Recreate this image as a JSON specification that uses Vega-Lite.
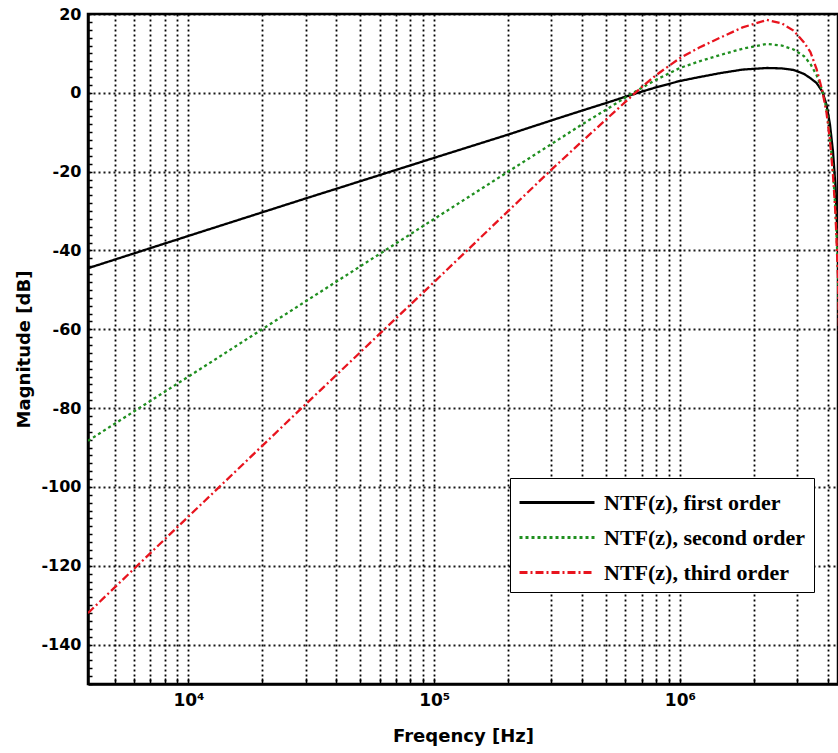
{
  "$schema": "https://vega.github.io/schema/vega-lite/v6.json",
  "width": 750,
  "height": 670,
  "autosize": {"type": "none"},
  "padding": {"left": 88, "top": 14, "right": 0, "bottom": 69},
  "background": "white",
  "config": {
    "view": {"stroke": "black", "strokeWidth": 2.5},
    "axis": {
      "domainColor": "black",
      "domainWidth": 2.5,
      "tickColor": "black",
      "tickWidth": 1.5,
      "gridColor": "black",
      "gridDash": [2, 3],
      "gridWidth": 1.8,
      "labelFont": "DejaVu Sans",
      "labelFontWeight": "bold",
      "labelFontSize": 16,
      "labelColor": "black",
      "titleFont": "DejaVu Sans",
      "titleFontWeight": "bold",
      "titleFontSize": 18,
      "titleColor": "black",
      "labelOverlap": false,
      "labelFlush": false
    },
    "legend": {
      "labelFont": "Liberation Serif",
      "labelFontWeight": "bold",
      "labelFontSize": 22,
      "labelColor": "black",
      "labelLimit": 0
    }
  },
  "data": {
    "values": [
      {"series": "NTF(z), first order", "f": 3900, "db": -44.5},
      {"series": "NTF(z), first order", "f": 10000, "db": -36.3},
      {"series": "NTF(z), first order", "f": 30000, "db": -26.8},
      {"series": "NTF(z), first order", "f": 100000, "db": -16.5},
      {"series": "NTF(z), first order", "f": 200000, "db": -10.6},
      {"series": "NTF(z), first order", "f": 300000, "db": -7.0},
      {"series": "NTF(z), first order", "f": 400000, "db": -4.5},
      {"series": "NTF(z), first order", "f": 500000, "db": -2.6},
      {"series": "NTF(z), first order", "f": 600000, "db": -1.0},
      {"series": "NTF(z), first order", "f": 700000, "db": 0.3},
      {"series": "NTF(z), first order", "f": 800000, "db": 1.4},
      {"series": "NTF(z), first order", "f": 1000000, "db": 3.0},
      {"series": "NTF(z), first order", "f": 1200000, "db": 4.0},
      {"series": "NTF(z), first order", "f": 1460000, "db": 5.0},
      {"series": "NTF(z), first order", "f": 1800000, "db": 5.9},
      {"series": "NTF(z), first order", "f": 2260000, "db": 6.3},
      {"series": "NTF(z), first order", "f": 2600000, "db": 6.2},
      {"series": "NTF(z), first order", "f": 2900000, "db": 5.8},
      {"series": "NTF(z), first order", "f": 3200000, "db": 4.8},
      {"series": "NTF(z), first order", "f": 3400000, "db": 3.7},
      {"series": "NTF(z), first order", "f": 3600000, "db": 2.5},
      {"series": "NTF(z), first order", "f": 3800000, "db": 0.3},
      {"series": "NTF(z), first order", "f": 3950000, "db": -3.0},
      {"series": "NTF(z), first order", "f": 4080000, "db": -8.0},
      {"series": "NTF(z), first order", "f": 4200000, "db": -15.0},
      {"series": "NTF(z), first order", "f": 4300000, "db": -24.0},
      {"series": "NTF(z), first order", "f": 4400000, "db": -40.0},
      {"series": "NTF(z), first order", "f": 4600000, "db": -90.0},
      {"series": "NTF(z), second order", "f": 3900, "db": -88.3},
      {"series": "NTF(z), second order", "f": 10000, "db": -72.0},
      {"series": "NTF(z), second order", "f": 30000, "db": -52.9},
      {"series": "NTF(z), second order", "f": 100000, "db": -32.0},
      {"series": "NTF(z), second order", "f": 200000, "db": -20.0},
      {"series": "NTF(z), second order", "f": 300000, "db": -13.0},
      {"series": "NTF(z), second order", "f": 400000, "db": -8.0},
      {"series": "NTF(z), second order", "f": 500000, "db": -4.3},
      {"series": "NTF(z), second order", "f": 600000, "db": -1.2},
      {"series": "NTF(z), second order", "f": 700000, "db": 1.3},
      {"series": "NTF(z), second order", "f": 800000, "db": 3.3},
      {"series": "NTF(z), second order", "f": 1000000, "db": 6.3},
      {"series": "NTF(z), second order", "f": 1200000, "db": 8.0},
      {"series": "NTF(z), second order", "f": 1460000, "db": 9.6},
      {"series": "NTF(z), second order", "f": 1800000, "db": 11.2},
      {"series": "NTF(z), second order", "f": 2260000, "db": 12.4},
      {"series": "NTF(z), second order", "f": 2600000, "db": 12.0},
      {"series": "NTF(z), second order", "f": 2900000, "db": 11.0},
      {"series": "NTF(z), second order", "f": 3200000, "db": 9.3},
      {"series": "NTF(z), second order", "f": 3400000, "db": 7.3},
      {"series": "NTF(z), second order", "f": 3600000, "db": 4.5},
      {"series": "NTF(z), second order", "f": 3800000, "db": 0.5},
      {"series": "NTF(z), second order", "f": 3950000, "db": -4.0},
      {"series": "NTF(z), second order", "f": 4080000, "db": -11.0},
      {"series": "NTF(z), second order", "f": 4200000, "db": -20.0},
      {"series": "NTF(z), second order", "f": 4300000, "db": -30.0},
      {"series": "NTF(z), second order", "f": 4400000, "db": -45.0},
      {"series": "NTF(z), second order", "f": 4600000, "db": -100.0},
      {"series": "NTF(z), third order", "f": 3900, "db": -132.0},
      {"series": "NTF(z), third order", "f": 10000, "db": -107.5},
      {"series": "NTF(z), third order", "f": 30000, "db": -79.0},
      {"series": "NTF(z), third order", "f": 100000, "db": -48.0},
      {"series": "NTF(z), third order", "f": 200000, "db": -30.0},
      {"series": "NTF(z), third order", "f": 300000, "db": -19.5},
      {"series": "NTF(z), third order", "f": 400000, "db": -12.3},
      {"series": "NTF(z), third order", "f": 500000, "db": -6.8},
      {"series": "NTF(z), third order", "f": 600000, "db": -2.3},
      {"series": "NTF(z), third order", "f": 700000, "db": 1.5},
      {"series": "NTF(z), third order", "f": 800000, "db": 4.5},
      {"series": "NTF(z), third order", "f": 1000000, "db": 8.8},
      {"series": "NTF(z), third order", "f": 1200000, "db": 11.5},
      {"series": "NTF(z), third order", "f": 1460000, "db": 14.0},
      {"series": "NTF(z), third order", "f": 1800000, "db": 16.6},
      {"series": "NTF(z), third order", "f": 2260000, "db": 18.5},
      {"series": "NTF(z), third order", "f": 2600000, "db": 17.6},
      {"series": "NTF(z), third order", "f": 2900000, "db": 15.8},
      {"series": "NTF(z), third order", "f": 3200000, "db": 12.8},
      {"series": "NTF(z), third order", "f": 3400000, "db": 10.3},
      {"series": "NTF(z), third order", "f": 3600000, "db": 6.0},
      {"series": "NTF(z), third order", "f": 3800000, "db": 0.5},
      {"series": "NTF(z), third order", "f": 3950000, "db": -5.0},
      {"series": "NTF(z), third order", "f": 4080000, "db": -12.0},
      {"series": "NTF(z), third order", "f": 4200000, "db": -21.0},
      {"series": "NTF(z), third order", "f": 4300000, "db": -31.0},
      {"series": "NTF(z), third order", "f": 4400000, "db": -47.0},
      {"series": "NTF(z), third order", "f": 4600000, "db": -110.0}
    ]
  },
  "mark": {"type": "line", "clip": true, "strokeWidth": 2.3},
  "encoding": {
    "x": {
      "field": "f",
      "type": "quantitative",
      "scale": {"type": "log", "domain": [3900, 4400000], "nice": false},
      "axis": {
        "title": "Freqency [Hz]",
        "values": [5000, 6000, 7000, 8000, 9000, 10000, 20000, 30000, 40000, 50000, 60000, 70000, 80000, 90000, 100000, 200000, 300000, 400000, 500000, 600000, 700000, 800000, 900000, 1000000, 2000000, 3000000, 4000000],
        "labelExpr": "datum.value == 10000 ? '10⁴' : datum.value == 100000 ? '10⁵' : datum.value == 1000000 ? '10⁶' : ''",
        "labelFontSize": 17,
        "tickSize": -6,
        "labelPadding": 14,
        "titlePadding": 19,
        "grid": true
      }
    },
    "y": {
      "field": "db",
      "type": "quantitative",
      "scale": {"domain": [-150, 20], "nice": false, "zero": false},
      "axis": {
        "title": "Magnitude [dB]",
        "values": [-150, -148, -146, -144, -142, -140, -138, -136, -134, -132, -130, -128, -126, -124, -122, -120, -118, -116, -114, -112, -110, -108, -106, -104, -102, -100, -98, -96, -94, -92, -90, -88, -86, -84, -82, -80, -78, -76, -74, -72, -70, -68, -66, -64, -62, -60, -58, -56, -54, -52, -50, -48, -46, -44, -42, -40, -38, -36, -34, -32, -30, -28, -26, -24, -22, -20, -18, -16, -14, -12, -10, -8, -6, -4, -2, 0, 2, 4, 6, 8, 10, 12, 14, 16, 18, 20],
        "labelExpr": "datum.value % 20 === 0 ? '' + datum.value : ''",
        "gridOpacity": {"condition": {"test": "datum.value % 20 === 0", "value": 0.9}, "value": 0},
        "tickSize": -4,
        "labelPadding": 11,
        "titlePadding": 7,
        "grid": true
      }
    },
    "color": {
      "field": "series",
      "type": "nominal",
      "scale": {
        "domain": ["NTF(z), first order", "NTF(z), second order", "NTF(z), third order"],
        "range": ["#000000", "#1f8f1f", "#e8141e"]
      },
      "legend": {
        "title": null,
        "orient": "none",
        "legendX": 422,
        "legendY": 464,
        "symbolType": "M-1,0H4",
        "symbolSize": 900,
        "symbolStrokeWidth": 3,
        "labelOffset": 53,
        "rowPadding": 7,
        "padding": 8,
        "strokeColor": "black",
        "fillColor": "white",
        "encode": {
          "symbols": {
            "update": {
              "strokeDash": {"signal": "datum.value === 'NTF(z), second order' ? [6, 3] : datum.value === 'NTF(z), third order' ? [7, 3, 3, 3] : [1, 0]"}
            }
          }
        }
      }
    },
    "strokeDash": {
      "field": "series",
      "type": "nominal",
      "scale": {
        "domain": ["NTF(z), first order", "NTF(z), second order", "NTF(z), third order"],
        "range": [[1, 0], [3, 3], [8, 3, 2, 3]]
      },
      "legend": {
        "title": null,
        "orient": "none",
        "legendX": 422,
        "legendY": 464,
        "symbolType": "M-1,0H4",
        "symbolSize": 900,
        "symbolStrokeWidth": 3,
        "labelOffset": 53,
        "rowPadding": 7,
        "padding": 8,
        "strokeColor": "black",
        "fillColor": "white",
        "encode": {
          "symbols": {
            "update": {
              "strokeDash": {"signal": "datum.value === 'NTF(z), second order' ? [6, 3] : datum.value === 'NTF(z), third order' ? [7, 3, 3, 3] : [1, 0]"}
            }
          }
        }
      }
    }
  }
}
